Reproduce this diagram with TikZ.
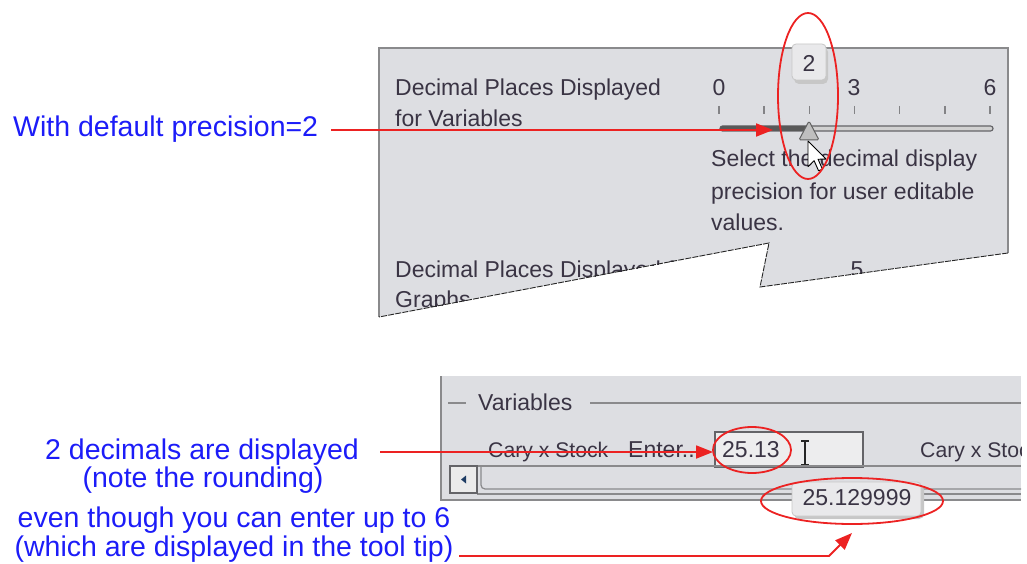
\documentclass[tikz,border=0pt]{standalone}
\usepackage{fontspec}
\setmainfont{Liberation Sans}
\usetikzlibrary{arrows.meta}

\definecolor{panelbg}{RGB}{221,222,226}
\definecolor{panelrule}{RGB}{138,138,140}
\definecolor{uitext}{RGB}{58,52,68}
\definecolor{notered}{RGB}{236,34,34}
\definecolor{noteblue}{RGB}{28,28,248}
\definecolor{fieldbg}{RGB}{237,237,238}
\definecolor{tipbg}{RGB}{233,233,235}
\definecolor{darkrule}{RGB}{100,100,104}
\definecolor{scrollarrow}{RGB}{30,60,100}

\newcommand{\uisize}{\fontsize{23}{31}\selectfont}
\newcommand{\rowsize}{\fontsize{21.2}{31}\selectfont}
\newcommand{\notesize}{\fontsize{28.5}{30}\selectfont}

\tikzset{
  uilabel/.style={inner sep=0pt, anchor=base west, text=uitext, font=\uisize},
  uicentre/.style={inner sep=0pt, anchor=base, text=uitext, font=\uisize},
  notetext/.style={inner sep=0pt, anchor=base, text=noteblue, font=\notesize},
  notearrow/.style={draw=notered, line width=1.8pt, -{Triangle[length=17pt,width=13pt]}},
  ring/.style={draw=notered, line width=1.8pt},
  tear/.style={draw=black!85, line width=0.9pt, dash pattern=on 6pt off 1.2pt},
  tipbox/.style={fill=tipbg, draw=black!22, line width=0.8pt, rounded corners=4pt},
  tipshadow/.style={fill=black!22, rounded corners=5pt},
}

\begin{document}
\begin{tikzpicture}[x=1pt, y=-1pt]
\useasboundingbox (0,0) rectangle (1027,564);

% ---------- preferences panel with torn lower edge ----------
\def\prefpanel{(379,48) -- (1008,48) -- (1008,253) -- (760,287) -- (769,243) -- (379,317) -- cycle}
\fill[panelbg] \prefpanel;
\begin{scope}
  \clip \prefpanel;
  \node[uilabel] (varlbl1) at (395,96) {Decimal Places Displayed};
  \node[uilabel] (varlbl2) at (395,127) {for Variables};
  \node[uicentre] (tick0) at (719,96) {0};
  \node[uicentre] (tick3) at (854,96) {3};
  \node[uicentre] (tick6) at (990,96) {6};
  \foreach \i in {0,...,6}
    \draw[darkrule!80, line width=1.5pt] (719+45.17*\i,106) -- (719+45.17*\i,114);
  % slider track, filled part on the left
  \draw[darkrule, fill=black!18, line width=1.2pt, rounded corners=2.5pt] (720,126) rectangle (993,131);
  \fill[black!65, rounded corners=2.5pt] (720,126) rectangle (809,131);
  % slider thumb
  \draw[fill=black!25, draw=black!62, line width=1pt, rounded corners=1.5pt]
    (799,140) -- (809,121) -- (819,140) -- cycle;
  \node[uilabel] (help1) at (711,167) {Select the decimal display};
  \node[uilabel] (help2) at (711,199) {precision for user editable};
  \node[uilabel] (help3) at (711,230) {values.};
  \node[uilabel] (gralbl1) at (395,277) {Decimal Places Displayed for};
  \node[uilabel] (gralbl2) at (395,307) {Graphs};
  \node[uicentre] (graval) at (857,277) {5};
\end{scope}
\draw[panelrule, line width=1.4pt] (379,317) -- (379,48) -- (1008,48) -- (1008,253);
\draw[tear] (1008,253) -- (760,287) -- (769,243) -- (379,317);

% value tooltip over the thumb
\fill[tipshadow] (794,47) rectangle (828,84);
\draw[tipbox] (792,44) rectangle (826,80);
\node[uicentre] (thumbtip) at (809,72) {2};

% mouse pointer
\draw[fill=white, draw=black, line width=0.9pt, line join=round, shift={(808,141)}, scale=1.6]
  (0,0) -- (0,16) -- (3.8,12.3) -- (6.6,18.6) -- (9,17.6) -- (6.3,11.4) -- (11.3,11.3) -- cycle;

% ---------- variables panel ----------
\fill[panelbg] (440,376) rectangle (1021,501);
\begin{scope}
  \clip (440,376) rectangle (1021,501);
  \draw[panelrule, line width=1.6pt] (448,403) -- (466,403);
  \node[uilabel] (grouptitle) at (478,410) {Variables};
  \draw[panelrule, line width=1.6pt] (590,403) -- (1021,403);
  \node[uilabel, font=\rowsize] (stock1) at (488,457) {Cary x Stock};
  \node[uilabel] (enter1) at (628,457) {Enter...};
  \draw[fill=fieldbg, draw=darkrule, line width=1.2pt] (715,432) rectangle (863,467);
  \node[uilabel] (value) at (722,457) {25.13};
  \draw[black!85, line width=1.4pt] (805,441) -- (805,465) (801,441) -- (809,441) (801,465) -- (809,465);
  \node[uilabel, font=\rowsize] (stock2) at (920,457) {Cary x Stock};
  % horizontal scroll bar
  \draw[panelrule, line width=1.2pt] (477,466) -- (1021,466);
  \draw[panelrule, line width=1.2pt, rounded corners=4pt] (481,466) -- (481,489) -- (1021,489);
  \draw[panelrule, line width=1.2pt] (477,494) -- (1021,494);
  \draw[fill=black!8, draw=darkrule, line width=1.1pt] (450,466) rectangle (477,493);
  \fill[scrollarrow] (461,479.5) -- (466,475.5) -- (466,483.5) -- cycle;
\end{scope}
\draw[panelrule, line width=1.6pt] (441,376) -- (441,500) -- (1021,500);

% full-precision tooltip
\fill[tipshadow] (794,485) rectangle (924,519);
\draw[tipbox] (792,482) rectangle (921,516);
\node[uicentre] (fullvalue) at (857,505) {25.129999};

% ---------- annotations ----------
\node[notetext, anchor=base west] (notedefault) at (13,137) {With default precision=2};
\node[notetext] (noteshown1) at (202,459) {2 decimals are displayed};
\node[notetext] (noteshown2) at (203,487) {(note the rounding)};
\node[notetext] (noteenter1) at (234,527) {even though you can enter up to 6};
\node[notetext] (noteenter2) at (234,556) {(which are displayed in the tool tip)};

\coordinate (arrowAstart) at (331,130);
\coordinate (arrowAend) at (773,130);
\coordinate (arrowBstart) at (380,452);
\coordinate (arrowBend) at (713,452);
\coordinate (arrowCstart) at (459,556);
\coordinate (arrowCbend) at (829,556);
\coordinate (arrowCend) at (852,533);

\draw[notearrow] (arrowAstart) -- (arrowAend);
\draw[notearrow] (arrowBstart) -- (arrowBend);
\draw[notearrow] (arrowCstart) -- (arrowCbend) -- (arrowCend);

\draw[ring] (808,96) ellipse [x radius=30pt, y radius=83pt];
\draw[ring] (752,450) ellipse [x radius=39pt, y radius=23pt];
\draw[ring] (852,501) ellipse [x radius=91pt, y radius=23pt];
\end{tikzpicture}
\end{document}
